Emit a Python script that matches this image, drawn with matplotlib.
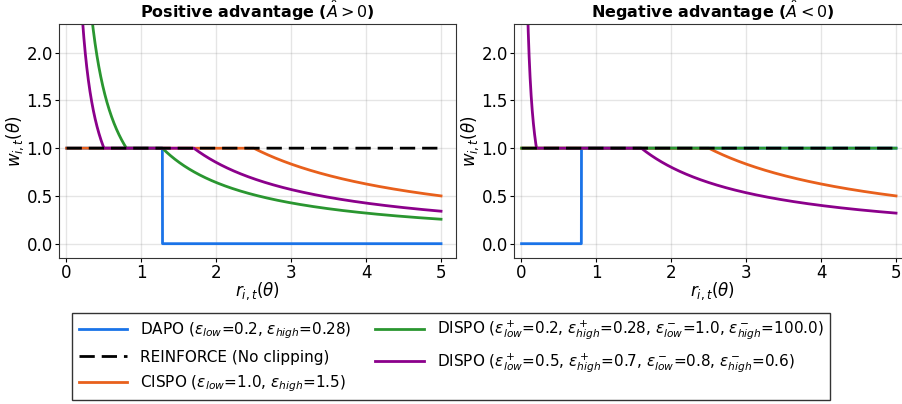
import matplotlib
matplotlib.use('Agg')
import matplotlib.pyplot as plt
import numpy as np
# === Importance weight w_{i,t} vs ratio r_{i,t} for several clipping schemes ===
# --- clipping parameters, read from the legend
dapo_eps = [0.2, 0.28]            # eps_low, eps_high
cispo_eps = [1.0, 1.5]            # eps_low, eps_high
dispo1_pos = [0.2, 0.28]          # eps+_low, eps+_high
dispo1_neg = [1.0, 100.0]         # eps-_low, eps-_high
dispo2_pos = [0.5, 0.7]
dispo2_neg = [0.8, 0.6]
labels = [r'DAPO ($\epsilon_{low}$=0.2, $\epsilon_{high}$=0.28)',
          'REINFORCE (No clipping)',
          r'CISPO ($\epsilon_{low}$=1.0, $\epsilon_{high}$=1.5)',
          r'DISPO ($\epsilon^+_{low}$=0.2, $\epsilon^+_{high}$=0.28, $\epsilon^-_{low}$=1.0, $\epsilon^-_{high}$=100.0)',
          r'DISPO ($\epsilon^+_{low}$=0.5, $\epsilon^+_{high}$=0.7, $\epsilon^-_{low}$=0.8, $\epsilon^-_{high}$=0.6)']
colors = ['#1a73e8', 'black', '#e8601c', '#2a9630', '#8b008b']
titles = [r'Positive advantage ($\hat{A} > 0$)', r'Negative advantage ($\hat{A} < 0$)']
# --- ratio axis
r = np.linspace(0.001, 5, 5000)
# --- weight = clipped ratio / ratio
def clip_weight(r, eps):
  return np.clip(r, 1 - eps[0], 1 + eps[1]) / r
fig = plt.figure(figsize=(9.02, 4.04), dpi=100)
ax1 = fig.add_axes([59/902, 1-258/404, 397/902, 234/404])
ax2 = fig.add_axes([514/902, 1-258/404, 397/902, 234/404])
handles = []
for k, ax in enumerate([ax1, ax2]):
  if k == 0:
    w_dapo = np.where(r <= 1 + dapo_eps[1], 1.0, 0.0)
    w_d1 = clip_weight(r, dispo1_pos)
    w_d2 = clip_weight(r, dispo2_pos)
  else:
    w_dapo = np.where(r >= 1 - dapo_eps[0], 1.0, 0.0)
    w_d1 = clip_weight(r, dispo1_neg)
    w_d2 = clip_weight(r, dispo2_neg)
  w_cispo = clip_weight(r, cispo_eps)
  h = []
  h += ax.plot(r, w_dapo, color=colors[0], lw=2, label=labels[0])
  h += ax.plot(r, np.ones_like(r), color=colors[1], lw=2, dashes=(5.5, 2.5), zorder=5, label=labels[1])
  h += ax.plot(r, w_cispo, color=colors[2], lw=2, label=labels[2])
  h += ax.plot(r, w_d1, color=colors[3], lw=2, label=labels[3])
  h += ax.plot(r, w_d2, color=colors[4], lw=2, label=labels[4])
  if k == 0:
    handles = h
  ax.set_xlim(-0.1, 5.2)
  ax.set_ylim(-0.15, 2.3)
  ax.set_xticks([0, 1, 2, 3, 4, 5])
  ax.set_yticks([0.0, 0.5, 1.0, 1.5, 2.0])
  ax.tick_params(labelsize=12, pad=1.5, length=3)
  ax.grid(True, color='gray', alpha=0.2, lw=1)
  for s in ax.spines.values():
    s.set_color('0.2')
  ax.set_xlabel(r'$r_{i,t}(\theta)$', fontsize=12, labelpad=-1)
  ax.set_ylabel(r'$w_{i,t}(\theta)$', fontsize=12, labelpad=0.5)
  ax.set_title(titles[k], fontsize=11.5, fontweight='bold', pad=4)
fig.legend(handles, labels, loc='upper center', bbox_to_anchor=(0.5, 1-305/404), ncol=2,
           fontsize=11, fancybox=False, edgecolor='0.2', framealpha=1, handlelength=3.2,
           labelspacing=0.58, columnspacing=1.6)
fig.savefig('out.png', dpi=100)
print("Done")
